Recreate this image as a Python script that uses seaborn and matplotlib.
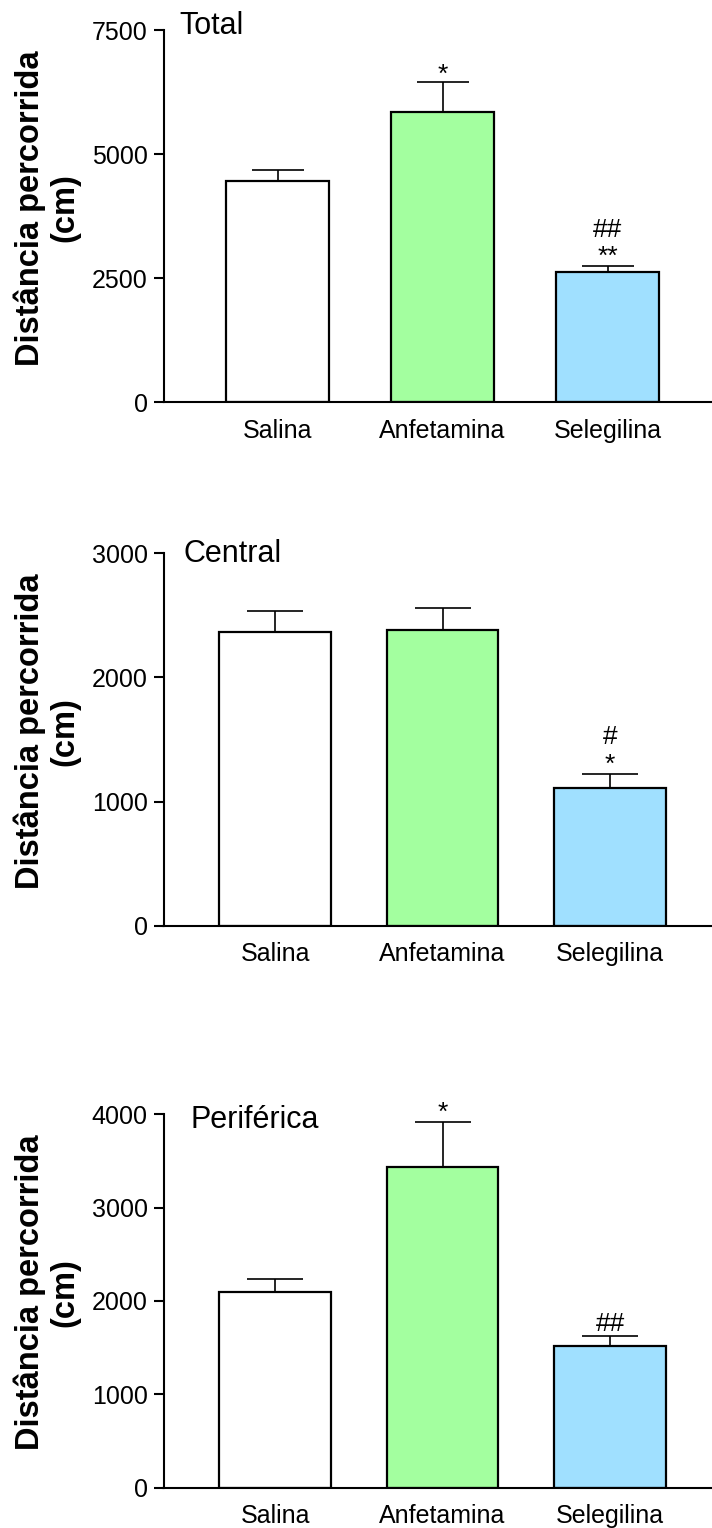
import numpy as np
import pandas as pd
import matplotlib
matplotlib.use("Agg")
import matplotlib.pyplot as plt
import matplotlib.transforms as mtransforms
import seaborn as sns

# ---------------- data ----------------
groups = ["Salina", "Anfetamina", "Selegilina"]
bar_colors = ["#FFFFFF", "#A3FF9F", "#A0E0FF"]

panel_titles = ["Total", "Central", "Periférica"]

total_means = [4450, 5850, 2630]
total_sem = [227, 605, 120]

central_means = [2365, 2385, 1110]
central_sem = [168, 177, 112]

periferica_means = [2100, 3440, 1517]
periferica_sem = [139, 481, 110]

total_ticks = [0, 2500, 5000, 7500]
central_ticks = [0, 1000, 2000, 3000]
periferica_ticks = [0, 1000, 2000, 3000, 4000]

# significance marks (lines stacked from bottom to top) per group
total_marks = [[], ["*"], ["**", "##"]]
central_marks = [[], [], ["*", "#"]]
periferica_marks = [[], ["*"], ["##"]]

ylabel_text = "Distância percorrida\n(cm)"

# ---------------- style ----------------
sns.set_style("ticks")
plt.rcParams["font.family"] = ["Liberation Sans", "DejaVu Sans"]

W, H = 712, 1528
fig = plt.figure(figsize=(W / 100, H / 100), dpi=100)


def px_axes(left, top, right, bottom):
    return fig.add_axes([left / W, 1 - bottom / H, (right - left) / W, (bottom - top) / H])


panels = [
    dict(ax=px_axes(163.5, 30, 712, 402), means=total_means, sem=total_sem, ticks=total_ticks,
         marks=total_marks, title=panel_titles[0], xlim=(-0.691, 2.633), width=0.624,
         capsize=19, title_x=-0.594, title_y=0.988,
         mark_offsets={"*": 0.0, "**": 1.4, "##": 20.5}),
    dict(ax=px_axes(163.5, 553.3, 712, 925.7), means=central_means, sem=central_sem, ticks=central_ticks,
         marks=central_marks, title=panel_titles[1], xlim=(-0.667, 2.609), width=0.666,
         capsize=20.5, title_x=-0.547, title_y=0.976,
         mark_offsets={"*": 1.6, "#": 21.5}),
    dict(ax=px_axes(163.5, 1114.3, 712, 1487.5), means=periferica_means, sem=periferica_sem,
         ticks=periferica_ticks, marks=periferica_marks, title=panel_titles[2],
         xlim=(-0.667, 2.609), width=0.666, capsize=20, title_x=-0.503, title_y=0.9625,
         mark_offsets={"*": 1.2, "##": 3.6}),
]

for p in panels:
    ax = p["ax"]
    df = pd.DataFrame({"grupo": groups, "valor": p["means"]})
    sns.barplot(data=df, x="grupo", y="valor", hue="grupo", palette=bar_colors,
                saturation=1, edgecolor="black", linewidth=1.6, width=p["width"],
                legend=False, errorbar=None, ax=ax, zorder=2)
    xs = np.arange(len(groups))
    ax.errorbar(xs, p["means"], yerr=[np.zeros(len(groups)), p["sem"]], fmt="none",
                ecolor="black", elinewidth=1.2, capsize=p["capsize"], capthick=1.2, zorder=3)

    ax.set_xlim(*p["xlim"])
    ax.set_ylim(p["ticks"][0], p["ticks"][-1])
    ax.set_yticks(p["ticks"])
    ax.set_yticklabels([str(t) for t in p["ticks"]])
    ax.set_xlabel("")
    ax.set_ylabel(ylabel_text, fontsize=23.5, fontweight="bold", linespacing=1.15,
                  color="black")
    ax.yaxis.set_label_coords(-0.152, 0.522)

    sns.despine(ax=ax)
    for s in ["left", "bottom"]:
        ax.spines[s].set_linewidth(1.5)
        ax.spines[s].set_color("black")
    ax.tick_params(axis="y", direction="out", length=7.2, width=1.5, pad=4.3,
                   labelsize=18, colors="black")
    ax.tick_params(axis="x", length=0, pad=12, labelsize=18, colors="black")

    trans = mtransforms.blended_transform_factory(ax.transData, ax.transAxes)
    ax.text(p["title_x"], p["title_y"], p["title"], transform=trans, ha="left",
            va="baseline", fontsize=22, color="black")

    tops = np.array(p["means"]) + np.array(p["sem"])
    for i, marks in enumerate(p["marks"]):
        for m in marks:
            ax.annotate(m, xy=(xs[i], tops[i]), xytext=(0, p["mark_offsets"][m]),
                        textcoords="offset points", ha="center", va="baseline",
                        fontsize=19, color="black", annotation_clip=False)

fig.savefig("out.png", dpi=100, facecolor="white")
